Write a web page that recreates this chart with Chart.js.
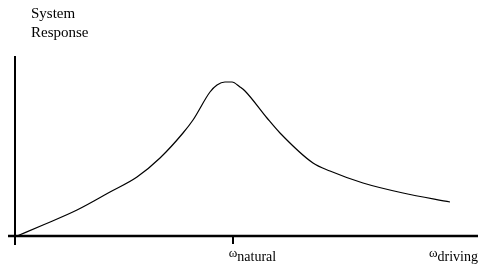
<!DOCTYPE html>
<html>
<head>
<meta charset="utf-8">
<script src="https://cdn.jsdelivr.net/npm/chart.js@4"></script>
<style>
  html, body { margin: 0; padding: 0; background: #fff; }
  #wrap { width: 501px; height: 272px; }
</style>
</head>
<body>
<div id="wrap"><canvas id="chart" width="501" height="272"></canvas></div>
<script>
// curve (arbitrary units, origin at the axes corner)
const respX = [2, 28, 62, 95, 122, 145, 168, 178, 195, 202, 210, 217, 225, 230, 252, 265, 298, 315, 348, 388, 435];
const respY = [0, 11, 26, 44, 59, 78, 103, 116, 144, 151, 154, 154, 149, 145, 118, 103, 73, 65, 53, 43, 34];

// tick labels on the frequency axis
const tickPos = [218, 418];
const tickSym = ['ω', 'ω'];
const tickSub = ['natural', 'driving'];
const tickMarks = [true, false];

const yTitle = ['System', 'Response'];

// axes + labels drawn through the chart's scales
const axesPlugin = {
  id: 'axes',
  afterDatasetsDraw(chart) {
    const { ctx, chartArea, scales: { x, y } } = chart;
    const x0 = x.getPixelForValue(0);
    const y0 = y.getPixelForValue(0);
    ctx.save();
    ctx.strokeStyle = '#000';
    ctx.lineWidth = 2;
    ctx.beginPath();
    ctx.moveTo(x0, chartArea.top);
    ctx.lineTo(x0, chartArea.bottom);
    ctx.stroke();
    ctx.lineWidth = 2.5;
    ctx.beginPath();
    ctx.moveTo(chartArea.left, y0);
    ctx.lineTo(chartArea.right, y0);
    ctx.stroke();

    ctx.fillStyle = '#000';
    ctx.textBaseline = 'alphabetic';
    ctx.textAlign = 'left';
    tickPos.forEach((v, i) => {
      const px = x.getPixelForValue(v);
      if (tickMarks[i]) {
        ctx.lineWidth = 2;
        ctx.beginPath();
        ctx.moveTo(px, y0);
        ctx.lineTo(px, y0 + 8);
        ctx.stroke();
      }
      ctx.font = '13px "Liberation Serif"';
      const w = ctx.measureText(tickSym[i]).width;
      const sx = tickMarks[i] ? px - w / 2 : px - 4;
      ctx.fillText(tickSym[i], sx, y0 + 21);
      ctx.font = '14px "Liberation Serif"';
      ctx.fillText(tickSub[i], sx + w, y0 + 25);
    });

    ctx.font = '15px "Liberation Serif"';
    yTitle.forEach((t, i) => {
      ctx.fillText(t, x0 + 16, 18 + i * 19);
    });
    ctx.restore();
  }
};

const points = respX.map((v, i) => ({ x: v, y: respY[i] }));

new Chart(document.getElementById('chart'), {
  type: 'scatter',
  data: {
    datasets: [{
      data: points,
      showLine: true,
      borderColor: '#000',
      borderWidth: 1.2,
      pointRadius: 0,
      cubicInterpolationMode: 'monotone',
      fill: false
    }]
  },
  options: {
    responsive: false,
    animation: false,
    layout: { padding: { left: 8, right: 23, top: 56, bottom: 27 } },
    plugins: { legend: { display: false }, tooltip: { enabled: false } },
    scales: {
      x: { type: 'linear', min: -7, max: 463, display: false },
      y: { type: 'linear', min: -9, max: 180, display: false }
    }
  },
  plugins: [axesPlugin]
});
</script>
</body>
</html>
